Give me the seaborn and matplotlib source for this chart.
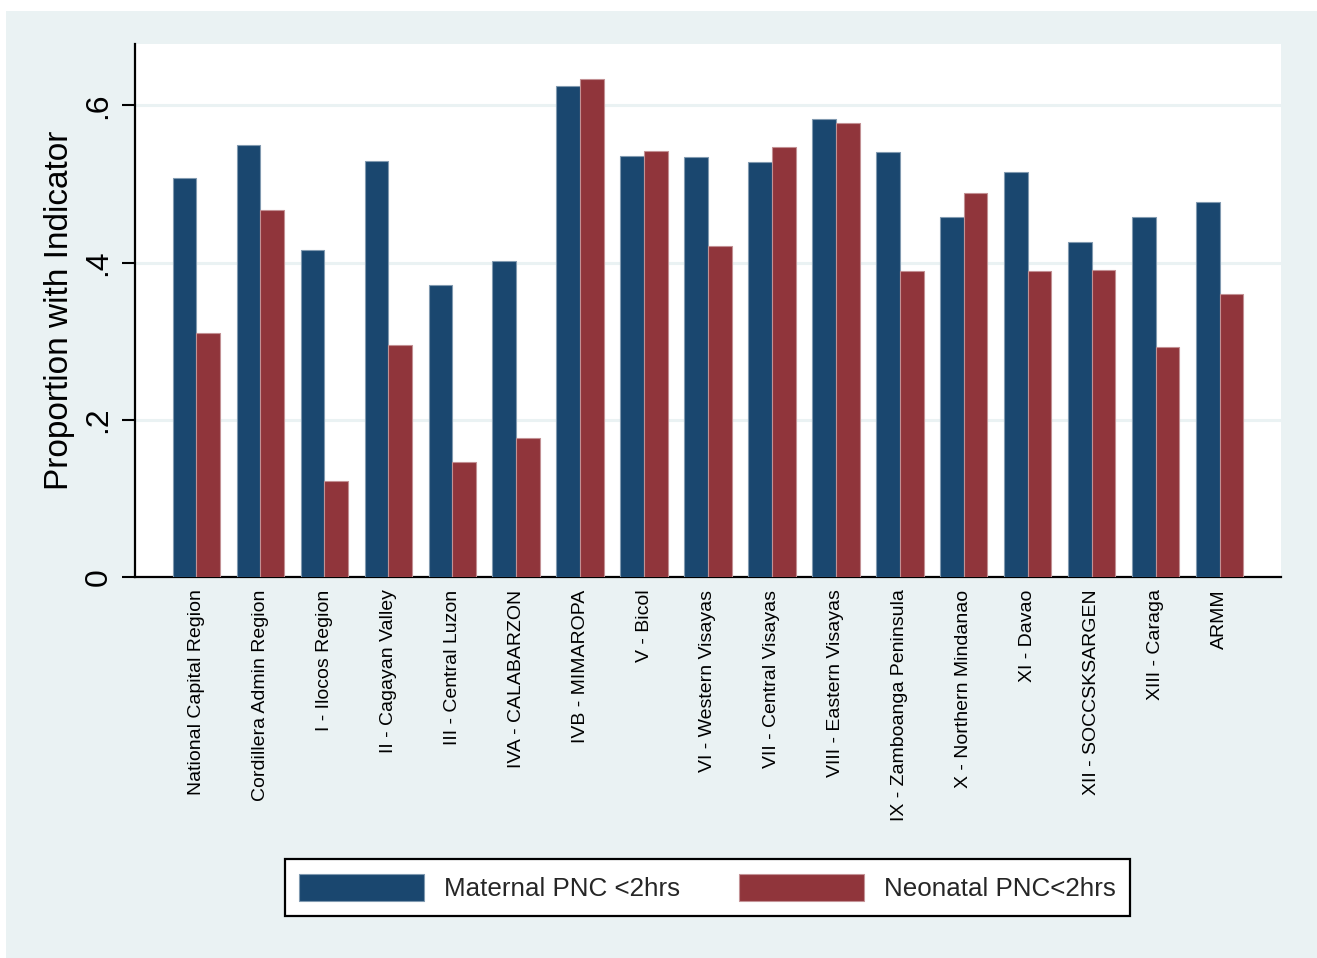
import matplotlib
matplotlib.use("Agg")
import matplotlib.pyplot as plt
from matplotlib.patches import Rectangle, Patch
import pandas as pd
import seaborn as sns

regions = [
    "National Capital Region", "Cordillera Admin Region", "I - Ilocos Region",
    "II - Cagayan Valley", "III - Central Luzon", "IVA - CALABARZON",
    "IVB - MIMAROPA", "V - Bicol", "VI - Western Visayas", "VII - Central Visayas",
    "VIII - Eastern Visayas", "IX - Zamboanga Peninsula", "X - Northern Mindanao",
    "XI - Davao", "XII - SOCCSKSARGEN", "XIII - Caraga", "ARMM",
]
maternal = [0.507, 0.550, 0.416, 0.529, 0.371, 0.402, 0.624, 0.536, 0.534,
            0.528, 0.583, 0.540, 0.458, 0.515, 0.426, 0.458, 0.477]
neonatal = [0.311, 0.467, 0.122, 0.295, 0.146, 0.177, 0.634, 0.542, 0.421,
            0.547, 0.577, 0.389, 0.489, 0.389, 0.390, 0.292, 0.360]
series_names = ["Maternal PNC <2hrs", "Neonatal PNC<2hrs"]
y_ticks = [0, 0.2, 0.4, 0.6]
y_tick_labels = ["0", ".2", ".4", ".6"]

navy = "#1A476F"
maroon = "#90353B"
panel_bg = "#EAF2F3"

df = pd.DataFrame({
    "region": regions * 2,
    "value": maternal + neonatal,
    "series": [series_names[0]] * len(regions) + [series_names[1]] * len(regions),
})

sns.set_theme(style="white")
plt.rcParams["font.family"] = ["Liberation Sans", "DejaVu Sans"]

fig = plt.figure(figsize=(13.17, 9.58), dpi=100, facecolor="white")
fig.add_artist(Rectangle((6 / 1317, 0), 1 - 6 / 1317, 1 - 11 / 958,
                         transform=fig.transFigure, facecolor=panel_bg,
                         edgecolor="none", zorder=-10))

ax = fig.add_axes([135 / 1317, 381 / 958, 1146 / 1317, 533 / 958])
ax.set_facecolor("white")

sns.barplot(data=df, x="region", y="value", hue="series",
            palette=[navy, maroon], saturation=1, width=0.74, gap=0,
            order=regions, hue_order=series_names, ax=ax, legend=False,
            edgecolor="none", linewidth=0, zorder=3)
for bar in ax.patches:
    fc = bar.get_facecolor()
    light = tuple(c + (1 - c) * 0.45 for c in fc[:3])
    bar.set_edgecolor(light)
    bar.set_linewidth(0.8)

ax.set_xlim(-0.96, 16.96)
ax.set_ylim(0, 0.678)
ax.set_yticks(y_ticks)
ax.set_yticklabels(y_tick_labels, rotation=90, va="center", fontsize=23)
ax.yaxis.grid(True, color=panel_bg, linewidth=2.2, zorder=0)
ax.xaxis.grid(False)
ax.set_axisbelow(True)

ax.tick_params(axis="y", length=9.5, width=1.5, color="black", pad=6,
               left=True, labelcolor="black")
ax.tick_params(axis="x", length=0, pad=9, labelsize=14, labelcolor="black")
for lbl in ax.get_xticklabels():
    lbl.set_rotation(90)
    lbl.set_va("top")
    lbl.set_ha("center")

ax.set_xlabel("")
ax.set_ylabel("Proportion with Indicator", fontsize=24, labelpad=6, color="black")

for side in ["top", "right"]:
    ax.spines[side].set_visible(False)
for side in ["left", "bottom"]:
    ax.spines[side].set_color("black")
    ax.spines[side].set_linewidth(1.6)

handles = [Patch(facecolor=navy, edgecolor="#7F99B0", linewidth=0.8),
           Patch(facecolor=maroon, edgecolor="#C49397", linewidth=0.8)]
leg = fig.legend(handles, series_names, loc="center",
                 bbox_to_anchor=(707.5 / 1317, 70.5 / 958), ncol=2,
                 fontsize=18.7, frameon=True, fancybox=False, framealpha=1,
                 edgecolor="black", facecolor="white",
                 handlelength=4.8, handleheight=1.25, handletextpad=0.75,
                 columnspacing=2.3, borderpad=0.55)
leg.get_frame().set_linewidth(1.6)

fig.savefig("out.png", dpi=100, facecolor="white")
